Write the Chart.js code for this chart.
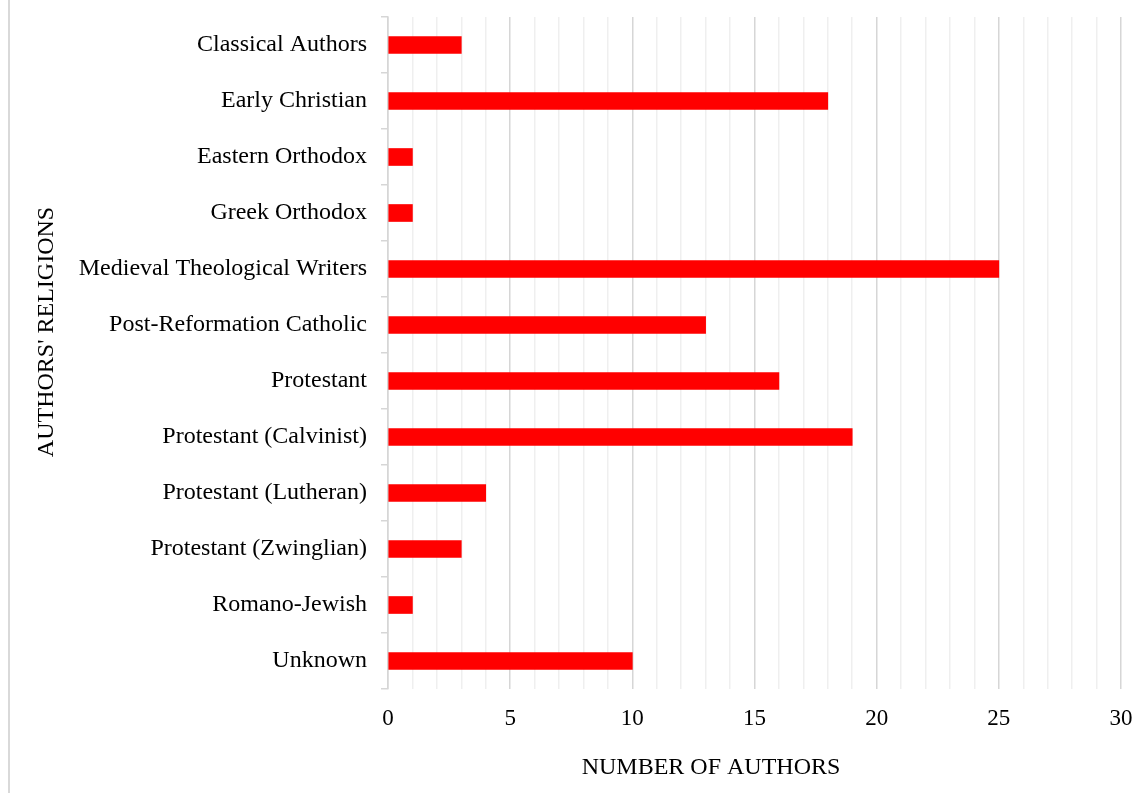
<!DOCTYPE html>
<html>
<head>
<meta charset="utf-8">
<script src="https://cdn.jsdelivr.net/npm/chart.js@4.4.1/dist/chart.umd.min.js"></script>
<style>
  html, body { margin: 0; padding: 0; background: #fff; }
  #wrap { position: relative; width: 1147px; height: 793px; }
</style>
</head>
<body>
<div id="wrap"><canvas id="chart" width="1147" height="793"></canvas></div>
<script>
// categories and values
const religions = [
    'Classical Authors',
    'Early Christian',
    'Eastern Orthodox',
    'Greek Orthodox',
    'Medieval Theological Writers',
    'Post-Reformation Catholic',
    'Protestant',
    'Protestant (Calvinist)',
    'Protestant (Lutheran)',
    'Protestant (Zwinglian)',
    'Romano-Jewish',
    'Unknown'
];
const authorCounts = [3, 18, 1, 1, 25, 13, 16, 19, 4, 3, 1, 10];

const xTitle = 'NUMBER OF AUTHORS';
const yTitle = "AUTHORS' RELIGIONS";

const serif = '"Liberation Serif", "Times New Roman", serif';

// axis titles and the frame line on the left
const titlesPlugin = {
    id: 'titles',
    beforeDraw(chart) {
        const ctx = chart.ctx;
        ctx.save();
        ctx.strokeStyle = '#d9d9d9';
        ctx.lineWidth = 2;
        ctx.beginPath();
        ctx.moveTo(9, 0);
        ctx.lineTo(9, chart.height);
        ctx.stroke();
        ctx.restore();
    },
    afterDraw(chart) {
        const ctx = chart.ctx;
        ctx.save();
        ctx.fillStyle = '#000';
        ctx.font = '24px ' + serif;
        ctx.textAlign = 'center';
        ctx.textBaseline = 'middle';
        ctx.fillText(xTitle, 711, 768);
        ctx.translate(47, 332);
        ctx.rotate(-Math.PI / 2);
        ctx.fillText(yTitle, 0, 0);
        ctx.restore();
    }
};

const ctx = document.getElementById('chart').getContext('2d');
new Chart(ctx, {
    type: 'bar',
    data: {
        labels: religions,
        datasets: [{
            data: authorCounts,
            backgroundColor: '#ff0000',
            borderWidth: 0,
            barThickness: 17
        }]
    },
    options: {
        indexAxis: 'y',
        responsive: false,
        animation: false,
        layout: { padding: { top: 17, right: 26, bottom: 0, left: 0 } },
        plugins: {
            legend: { display: false },
            tooltip: { enabled: false }
        },
        scales: {
            x: {
                min: 0,
                max: 30,
                afterFit: (s) => {
                    s.height = 104;
                    s.paddingLeft = 0;
                    s.paddingRight = 0;
                },
                border: { display: false },
                grid: {
                    drawTicks: false,
                    color: (c) => (c.tick && c.tick.value % 5 === 0) ? '#d6d6d6' : '#efefef',
                    lineWidth: 1.5
                },
                ticks: {
                    stepSize: 1,
                    autoSkip: false,
                    maxRotation: 0,
                    padding: 16,
                    color: '#000',
                    font: { family: serif, size: 23 },
                    callback: (v) => v % 5 === 0 ? v : ''
                }
            },
            y: {
                offset: true,
                afterFit: (s) => {
                    s.width = 388;
                    s.paddingTop = 0;
                    s.paddingBottom = 0;
                },
                border: { display: true, color: '#d6d6d6', width: 1.5 },
                grid: {
                    offset: true,
                    drawOnChartArea: false,
                    drawTicks: true,
                    tickLength: 7,
                    color: '#d6d6d6',
                    lineWidth: 1.5
                },
                ticks: {
                    padding: 14,
                    color: '#000',
                    font: { family: serif, size: 24 }
                }
            }
        }
    },
    plugins: [titlesPlugin]
});
</script>
</body>
</html>
